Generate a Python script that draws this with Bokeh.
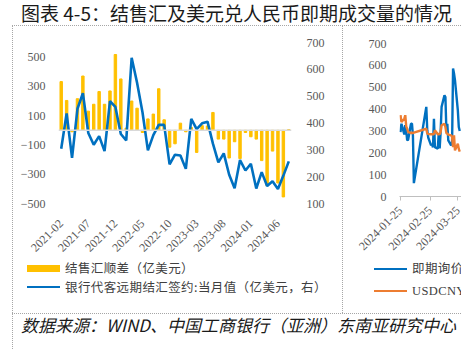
import math
import datetime as dt
import pandas as pd
from bokeh.plotting import figure
from bokeh.layouts import column, row
from bokeh.models import (Range1d, LinearAxis, FixedTicker, Div, Span,
                          DatetimeTickFormatter, CustomJSTickFormatter)
from bokeh.embed import file_html
from bokeh.resources import INLINE

# ---------------- data ----------------
TITLE = "图表 4-5：结售汇及美元兑人民币即期成交量的情况"
SOURCE = "数据来源：WIND、中国工商银行（亚洲）东南亚研究中心"

months = pd.period_range("2021-02", "2024-08", freq="M").strftime("%Y-%m").tolist()
tick_months = ["2021-02", "2021-07", "2021-12", "2022-05", "2022-10",
               "2023-03", "2023-08", "2024-01", "2024-06"]
# 结售汇顺差（亿美元）
fx_net = [333, 204, -10, 216, 371, 131, 178, 265, 178, 269, 518, 351, 15, 200, 151,
          -15, 78, 111, 284, 72, -115, -92, 49, -10, 20, -151, 32, 30, 122, -60,
          -60, -189, -78, -193, -15, -44, -60, -207, -378, -142, -360, -455, 5]
# 银行代客远期结汇签约:当月值（亿美元，右）
fwd_settle = [304, 436, 270, 453, 511, 363, 319, 351, 295, 481, 460, 359, 335, 643, 550,
              440, 298, 355, 393, 393, 246, 282, 279, 229, 415, 377, 399, 405, 323, 253,
              287, 207, 157, 262, 223, 248, 156, 217, 165, 183, 154, 204, 257]
left_legend = ["结售汇顺差（亿美元）", "银行代客远期结汇签约:当月值（亿美元，右）"]

spot_dates = ["2024-01-25", "2024-01-26", "2024-01-29", "2024-01-30", "2024-01-31",
              "2024-02-01", "2024-02-02", "2024-02-04", "2024-02-05", "2024-02-06",
              "2024-02-07", "2024-02-08", "2024-02-21", "2024-02-22", "2024-02-23",
              "2024-02-26", "2024-02-27", "2024-02-28", "2024-02-29", "2024-03-01",
              "2024-03-04", "2024-03-05", "2024-03-06", "2024-03-07", "2024-03-08",
              "2024-03-11", "2024-03-12", "2024-03-13", "2024-03-14", "2024-03-15",
              "2024-03-18", "2024-03-19", "2024-03-20", "2024-03-21", "2024-03-22",
              "2024-03-25", "2024-03-26", "2024-03-27"]
spot_volume = [295, 333, 284, 326, 300, 257, 260, 310, 333, 333, 280, 61,
               410, 303, 270, 234, 240, 225, 356, 226,
               219, 288, 220, 295, 410, 463, 455, 303, 333, 257,
               234, 250, 586, 563, 532, 394, 318, 300]
usdcny_volume = [372, 341, 356, 372, 320, 310, 295, 292, 290, 292, 290, 292,
                 310, 288, 286, 285, 284, 286, 285, 303,
                 285, 286, 284, 295, 326, 333, 318, 290, 288, 283,
                 280, 272, 226, 280, 211, 241, 218, 205]
spot_ticks = ["2024-01-25", "2024-02-25", "2024-03-25", "2024-04-25"]
right_legend = ["即期询价成交量（亿美元）", "USDCNY即期成交量"]

SERIF = "'Liberation Serif'"
CJK = "'Noto Sans CJK SC'"
GREY = "#595959"
DOT = "#a6a6a6"
BAR_C = "#FFC000"
BLUE = "#0070C0"
ORANGE = "#ED7D31"
FIG_H = 232
LEG_H = 287 - FIG_H


def style_axis(ax, standoff):
    ax.axis_line_color = None
    ax.major_tick_line_color = None
    ax.minor_tick_line_color = None
    ax.major_label_text_font = SERIF
    ax.major_label_text_font_size = "12px"
    ax.major_label_text_color = GREY
    ax.major_label_standoff = standoff


# ---------------- left chart ----------------
x_idx = list(range(len(months)))
p1 = figure(width=329, height=FIG_H, x_range=Range1d(-0.5, len(months) - 0.5),
            y_range=Range1d(-500, 600), output_backend="svg", toolbar_location=None,
            min_border_left=45, min_border_right=51, min_border_top=16,
            min_border_bottom=FIG_H - 16 - 165)
p1.extra_y_ranges = {"r": Range1d(100, 700)}
p1.outline_line_color = None
p1.grid.visible = False
p1.add_layout(Span(location=0, dimension="width", line_color="#d9d9d9", line_width=1.5))
bars = p1.vbar(x=x_idx, top=fx_net, bottom=0, width=0.45, color=BAR_C)
ln1 = p1.line(x=x_idx, y=fwd_settle, y_range_name="r", line_color=BLUE, line_width=2.6)

xa = p1.xaxis[0]
style_axis(xa, 12)
xa.ticker = FixedTicker(ticks=[months.index(m) for m in tick_months])
xa.formatter = CustomJSTickFormatter(args=dict(labels=months),
                                     code="return labels[Math.round(tick)] || '';")
xa.major_label_orientation = math.pi / 4

ya = p1.yaxis[0]
style_axis(ya, 7)
ya.ticker = FixedTicker(ticks=[-500, -300, -100, 100, 300, 500])

ra = LinearAxis(y_range_name="r", ticker=FixedTicker(ticks=[100, 200, 300, 400, 500, 600, 700]))
style_axis(ra, 9)
p1.add_layout(ra, "right")

# ---------------- right chart ----------------
sd = [dt.datetime.strptime(d, "%Y-%m-%d") for d in spot_dates]
p2 = figure(width=115, height=FIG_H, x_axis_type="datetime",
            x_range=Range1d(dt.datetime(2024, 1, 23, 23), dt.datetime(2024, 3, 28, 20)),
            y_range=Range1d(0, 700), output_backend="svg", toolbar_location=None,
            min_border_left=53, min_border_right=0, min_border_top=17,
            min_border_bottom=FIG_H - 17 - 153)
p2.outline_line_color = None
p2.grid.visible = False
ln2 = p2.line(x=sd, y=spot_volume, line_color=BLUE, line_width=2.4)
ln3 = p2.line(x=sd, y=usdcny_volume, line_color=ORANGE, line_width=2.4)

xb = p2.xaxis[0]
style_axis(xb, 8)
xb.axis_line_color = "#bfbfbf"
xb.major_tick_line_color = "#bfbfbf"
xb.major_tick_out = 4
xb.major_tick_in = 0
xb.ticker = FixedTicker(ticks=[pd.Timestamp(d).value // 10**6 for d in spot_ticks])
xb.formatter = DatetimeTickFormatter(days="%Y-%m-%d", months="%Y-%m-%d", years="%Y-%m-%d")
xb.major_label_orientation = math.pi / 4

yb = p2.yaxis[0]
style_axis(yb, 7)
yb.ticker = FixedTicker(ticks=[0, 100, 200, 300, 400, 500, 600, 700])


# ---------------- legends (HTML) ----------------
def legend_row(top, sw_left, text_left, swatch_css, label, font):
    return (f'<div style="position:absolute;left:{sw_left}px;top:{top}px;width:33px;{swatch_css}"></div>'
            f'<div style="position:absolute;left:{text_left}px;top:{top - 10}px;height:20px;'
            f'line-height:20px;font-family:{font};font-size:12.5px;letter-spacing:0.4px;'
            f'color:#404040;white-space:nowrap;">{label}</div>')


def swatch(kind, color):
    if kind == "bar":
        return f"height:7px;margin-top:-3.5px;background:{color};"
    return f"height:2.6px;margin-top:-1.3px;background:{color};"


leg1_div = Div(width=329, height=LEG_H, margin=0, text=(
    f'<div style="position:relative;width:329px;height:{LEG_H}px;overflow:hidden;">'
    + legend_row(10, 14, 52, swatch("bar", BAR_C), left_legend[0], CJK)
    + legend_row(29, 14, 52, swatch("line", BLUE), left_legend[1], CJK)
    + '</div>'))

leg2_div = Div(width=115, height=LEG_H, margin=0, text=(
    f'<div style="position:relative;width:115px;height:{LEG_H}px;overflow:hidden;">'
    + legend_row(11, 28, 66, swatch("line", BLUE), right_legend[0], f"{SERIF}, {CJK}")
    + legend_row(33, 28, 66, swatch("line", ORANGE), right_legend[1], f"{SERIF}, {CJK}")
    + '</div>'))

# ---------------- frame / text ----------------
title_div = Div(width=461, height=26, margin=0, text=(
    '<div style="position:relative;width:461px;height:26px;overflow:hidden;">'
    f'<div style="position:absolute;left:21px;top:2px;font-family:{CJK};font-size:19px;'
    f'line-height:21px;color:#1a1a1a;white-space:nowrap;">{TITLE}</div>'
    f'<div style="position:absolute;left:12px;top:25px;width:449px;height:0;'
    f'border-top:1px dotted {DOT};"></div></div>'))

left_bar = Div(width=13, height=287, margin=0, text=(
    '<div style="position:relative;width:13px;height:287px;">'
    f'<div style="position:absolute;left:12px;top:0;width:0;height:287px;'
    f'border-left:1px dotted {DOT};"></div></div>'))
mid_bar = Div(width=4, height=287, margin=0, text=(
    '<div style="position:relative;width:4px;height:287px;">'
    f'<div style="position:absolute;left:0px;top:0;width:0;height:287px;'
    f'border-left:1px dotted {DOT};"></div></div>'))

source_div = Div(width=461, height=36, margin=0, text=(
    '<div style="position:relative;width:461px;height:36px;overflow:hidden;">'
    f'<div style="position:absolute;left:12px;top:0;width:449px;height:0;border-top:1px dotted {DOT};"></div>'
    f'<div style="position:absolute;left:12px;top:0;width:0;height:36px;border-left:1px dotted {DOT};"></div>'
    f'<div style="position:absolute;left:21px;top:1px;font-family:{CJK};font-size:17px;'
    f'font-style:italic;line-height:22px;color:#1a1a1a;white-space:nowrap;">{SOURCE}</div></div>'))

middle = row(left_bar, column(p1, leg1_div), mid_bar, column(p2, leg2_div))
layout = column(title_div, middle, source_div)

open("out.html", "w").write(file_html(layout, INLINE))
